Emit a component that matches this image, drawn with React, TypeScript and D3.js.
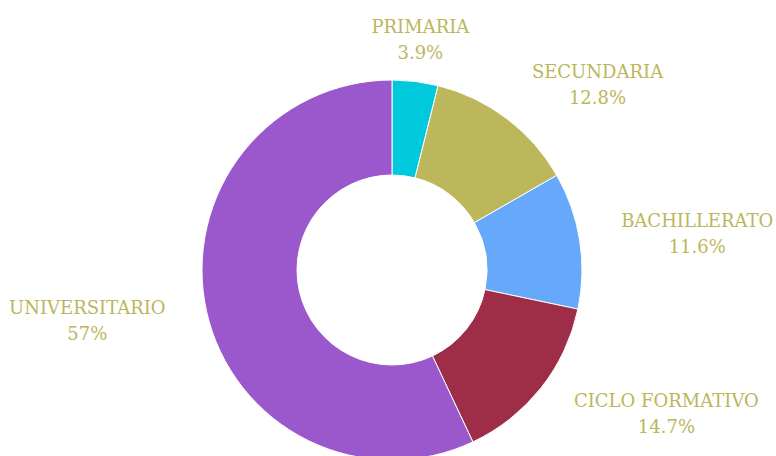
import { useEffect, useRef } from 'react'
import * as d3 from 'd3'

const categories = ['PRIMARIA', 'SECUNDARIA', 'BACHILLERATO', 'CICLO FORMATIVO', 'UNIVERSITARIO']
const values = [3.9, 12.8, 11.6, 14.7, 57]
const colors = ['#00c9dd', '#bdb75b', '#66a8f9', '#9e2d48', '#9a58cc']

export default function App() {
  const svgRef = useRef<SVGSVGElement>(null)

  useEffect(() => {
    if (!svgRef.current) return
    const svg = d3.select(svgRef.current)
    svg.selectAll('*').remove()

    const width = 776
    const height = 456
    const cx = 392
    const cy = 270
    const outer = 190
    const inner = 95
    const labelR = 232

    const data = categories.map((c, i) => ({ label: c, value: values[i], color: colors[i] }))
    const pie = d3.pie<{ label: string; value: number; color: string }>()
      .value(d => d.value)
      .sort(null)
    const arcs = pie(data)

    const arc = d3.arc<d3.PieArcDatum<{ label: string; value: number; color: string }>>()
      .innerRadius(inner)
      .outerRadius(outer)

    const g = svg.append('g').attr('transform', `translate(${cx},${cy})`)

    g.selectAll('path')
      .data(arcs)
      .enter()
      .append('path')
      .attr('d', arc)
      .attr('fill', d => d.data.color)
      .attr('stroke', '#ffffff')
      .attr('stroke-width', 1)

    const labels = g.selectAll('g.lbl')
      .data(arcs)
      .enter()
      .append('g')
      .attr('class', 'lbl')

    labels.each(function (d) {
      const sel = d3.select(this)
      const mid = (d.startAngle + d.endAngle) / 2
      const ax = labelR * Math.sin(mid)
      const ay = -labelR * Math.cos(mid)
      const t1 = sel.append('text')
        .attr('text-anchor', 'middle')
        .attr('y', ay - 7)
        .attr('font-family', '"DejaVu Serif", serif')
        .attr('font-size', 18)
        .attr('fill', '#bcb65a')
        .text(d.data.label)
      const w = (t1.node() as SVGTextElement).getComputedTextLength()
      const s = Math.sin(mid)
      const shift = Math.abs(s) < 0.3 ? 0 : Math.sign(s) * w / 2
      const x = ax + shift
      t1.attr('x', x)
      sel.append('text')
        .attr('text-anchor', 'middle')
        .attr('x', x)
        .attr('y', ay + 19)
        .attr('font-family', '"DejaVu Serif", serif')
        .attr('font-size', 18)
        .attr('fill', '#bcb65a')
        .text(`${d.data.value}%`)
    })

    svg.attr('width', width).attr('height', height)
  }, [])

  return (
    <svg
      ref={svgRef}
      width={776}
      height={456}
      style={{ position: 'fixed', top: 0, left: 0, background: '#fff' }}
    />
  )
}
